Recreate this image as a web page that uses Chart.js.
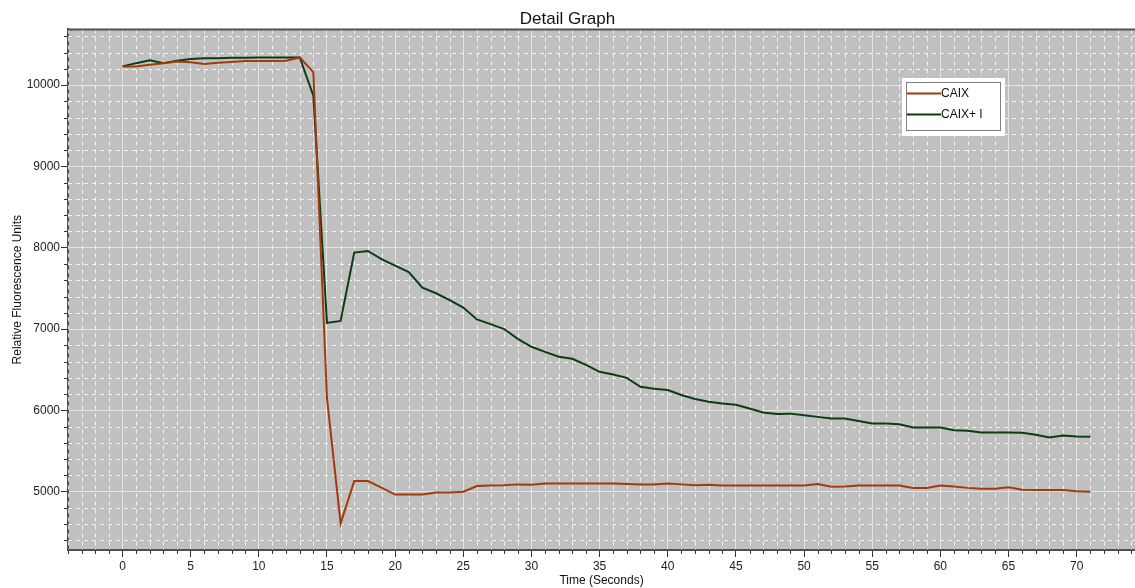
<!DOCTYPE html>
<html lang="en">
<head>
  <meta charset="UTF-8">
  <title>Detail Graph</title>
  <script src="https://cdn.jsdelivr.net/npm/chart.js"></script>
  <style>
    html, body {
      margin: 0;
      padding: 0;
      background: #fff;
    }
    .wrap {
      width: 1135px;
      height: 588px;
    }
  </style>
</head>
<body>
  <div class="wrap"><canvas id="chart"></canvas></div>
  <script>
  // time in seconds, one sample per second
  const seconds = [];
  for (let i = 0; i <= 71; i++) seconds.push(i);

  const caix = [
    10230, 10230, 10250, 10270, 10290, 10280, 10260, 10275, 10285, 10295,
    10295, 10295, 10300, 10340, 10160, 6150, 4610, 5130, 5130, 5050,
    4965, 4965, 4965, 4990, 4990, 5000, 5070, 5075, 5080, 5090,
    5085, 5100, 5100, 5100, 5100, 5100, 5100, 5095, 5090, 5090,
    5100, 5090, 5080, 5085, 5077, 5077, 5077, 5077, 5077, 5077,
    5077, 5095, 5060, 5065, 5077, 5077, 5077, 5075, 5045, 5045,
    5075, 5065, 5047, 5035, 5035, 5055, 5025, 5020, 5020, 5020,
    5005, 5000
  ];

  const caixI = [
    10230, 10270, 10305, 10270, 10300, 10320, 10330, 10330, 10335, 10335,
    10340, 10340, 10340, 10340, 9870, 7075, 7100, 7940, 7960, 7860,
    7780, 7700, 7510, 7440, 7355, 7265, 7118, 7060, 7000, 6880,
    6782, 6720, 6660, 6635, 6560, 6474, 6440, 6400, 6290, 6265,
    6250, 6190, 6140, 6105, 6085, 6070, 6023, 5975, 5955, 5960,
    5940, 5920, 5900, 5900, 5870, 5839, 5839, 5830, 5790, 5790,
    5790, 5757, 5750, 5728, 5728, 5728, 5725, 5700, 5667, 5690,
    5680, 5675
  ];

  const xMajor = [0, 5, 10, 15, 20, 25, 30, 35, 40, 45, 50, 55, 60, 65, 70];
  const yMajor = [5000, 6000, 7000, 8000, 9000, 10000];

  const FONT = "'Liberation Sans', Arial, sans-serif";

  // gray plot background, minor dashed grid, minor ticks, top border, legend
  const plotDecor = {
    id: "plotDecor",
    beforeDraw(chart) {
      const { ctx, chartArea: a } = chart;
      ctx.save();
      ctx.fillStyle = "#c0c0c0";
      ctx.fillRect(a.left, a.top, a.right - a.left, a.bottom - a.top);
      ctx.restore();
    },
    beforeDatasetsDraw(chart) {
      const { ctx, chartArea: a, scales } = chart;
      const x = scales.x, y = scales.y;
      ctx.save();
      ctx.strokeStyle = "rgba(255,255,255,0.8)";
      ctx.lineWidth = 1;
      ctx.setLineDash([4, 4]);
      for (let v = Math.ceil(x.min); v <= x.max; v++) {
        if (v % 5 === 0) continue;
        const px = Math.round(x.getPixelForValue(v)) + 0.5;
        ctx.beginPath();
        ctx.moveTo(px, a.top);
        ctx.lineTo(px, a.bottom);
        ctx.stroke();
      }
      for (let v = Math.ceil(y.min / 200) * 200; v <= y.max; v += 200) {
        if (v % 1000 === 0) continue;
        const py = Math.round(y.getPixelForValue(v)) + 0.5;
        ctx.beginPath();
        ctx.moveTo(a.left, py);
        ctx.lineTo(a.right, py);
        ctx.stroke();
      }
      // minor tick marks
      ctx.setLineDash([]);
      ctx.strokeStyle = "#333";
      for (let v = Math.ceil(x.min); v <= x.max; v++) {
        if (v % 5 === 0) continue;
        const px = Math.round(x.getPixelForValue(v)) + 0.5;
        ctx.beginPath();
        ctx.moveTo(px, a.bottom);
        ctx.lineTo(px, a.bottom + 4);
        ctx.stroke();
      }
      for (let v = Math.ceil(y.min / 200) * 200; v <= y.max; v += 200) {
        if (v % 1000 === 0) continue;
        const py = Math.round(y.getPixelForValue(v)) + 0.5;
        ctx.beginPath();
        ctx.moveTo(a.left - 4, py);
        ctx.lineTo(a.left, py);
        ctx.stroke();
      }
      // top border
      ctx.strokeStyle = "#505050";
      ctx.lineWidth = 2;
      ctx.beginPath();
      ctx.moveTo(a.left, a.top);
      ctx.lineTo(a.right, a.top);
      ctx.stroke();
      ctx.restore();
    },
    afterDraw(chart) {
      const { ctx } = chart;
      const sets = chart.data.datasets;
      ctx.save();
      ctx.fillStyle = "#fff";
      ctx.fillRect(902, 78, 103, 58);
      ctx.strokeStyle = "#808080";
      ctx.lineWidth = 1;
      ctx.strokeRect(906.5, 82.5, 94, 48);
      ctx.font = "12px " + FONT;
      ctx.textBaseline = "middle";
      sets.forEach((ds, i) => {
        const ly = 93.5 + i * 21;
        ctx.strokeStyle = ds.borderColor;
        ctx.lineWidth = 2;
        ctx.beginPath();
        ctx.moveTo(907, ly);
        ctx.lineTo(941, ly);
        ctx.stroke();
        ctx.fillStyle = "#111";
        ctx.fillText(ds.label, 941, ly);
      });
      ctx.restore();
    }
  };

  new Chart(document.getElementById("chart"), {
    type: "line",
    data: {
      labels: seconds,
      datasets: [
        {
          label: "CAIX",
          data: seconds.map((t, i) => ({ x: t, y: caix[i] })),
          borderColor: "#a33a0c",
          borderWidth: 2,
          pointRadius: 0,
          tension: 0
        },
        {
          label: "CAIX+ I",
          data: seconds.map((t, i) => ({ x: t, y: caixI[i] })),
          borderColor: "#0a3d12",
          borderWidth: 2,
          pointRadius: 0,
          tension: 0
        }
      ]
    },
    options: {
      responsive: true,
      maintainAspectRatio: false,
      animation: false,
      layout: { padding: { left: 0, right: 0, top: 0, bottom: 0 } },
      plugins: {
        legend: { display: false },
        tooltip: { enabled: false },
        title: {
          display: true,
          text: "Detail Graph",
          color: "#111",
          font: { family: FONT, size: 17, weight: "normal" },
          padding: { top: 9, bottom: 0 }
        }
      },
      scales: {
        x: {
          type: "linear",
          min: -4,
          max: 74.28,
          afterBuildTicks: s => { s.ticks = xMajor.map(v => ({ value: v })); },
          afterFit: s => { s.height = 38; },
          ticks: {
            color: "#222",
            font: { family: FONT, size: 12 },
            padding: 2,
            maxRotation: 0,
            autoSkip: false,
            callback: v => String(v)
          },
          grid: {
            color: "#e4e4e4",
            lineWidth: 1,
            tickColor: "#333",
            tickLength: 7
          },
          border: { color: "#505050", width: 2 },
          title: {
            display: true,
            text: "Time (Seconds)",
            color: "#111",
            font: { family: FONT, size: 12 },
            padding: { top: 0, bottom: 0 }
          }
        },
        y: {
          type: "linear",
          min: 4283,
          max: 10685,
          afterBuildTicks: s => { s.ticks = yMajor.map(v => ({ value: v })); },
          afterFit: s => { s.width = 68; },
          ticks: {
            color: "#222",
            font: { family: FONT, size: 12 },
            padding: 1,
            autoSkip: false,
            callback: v => String(v)
          },
          grid: {
            color: "#e4e4e4",
            lineWidth: 1,
            tickColor: "#333",
            tickLength: 7
          },
          border: { color: "#505050", width: 2 },
          title: {
            display: true,
            text: "Relative Fluorescence Units",
            color: "#111",
            font: { family: FONT, size: 12 },
            padding: { top: 10, bottom: 0 }
          }
        }
      }
    },
    plugins: [plotDecor]
  });
  </script>
</body>
</html>
